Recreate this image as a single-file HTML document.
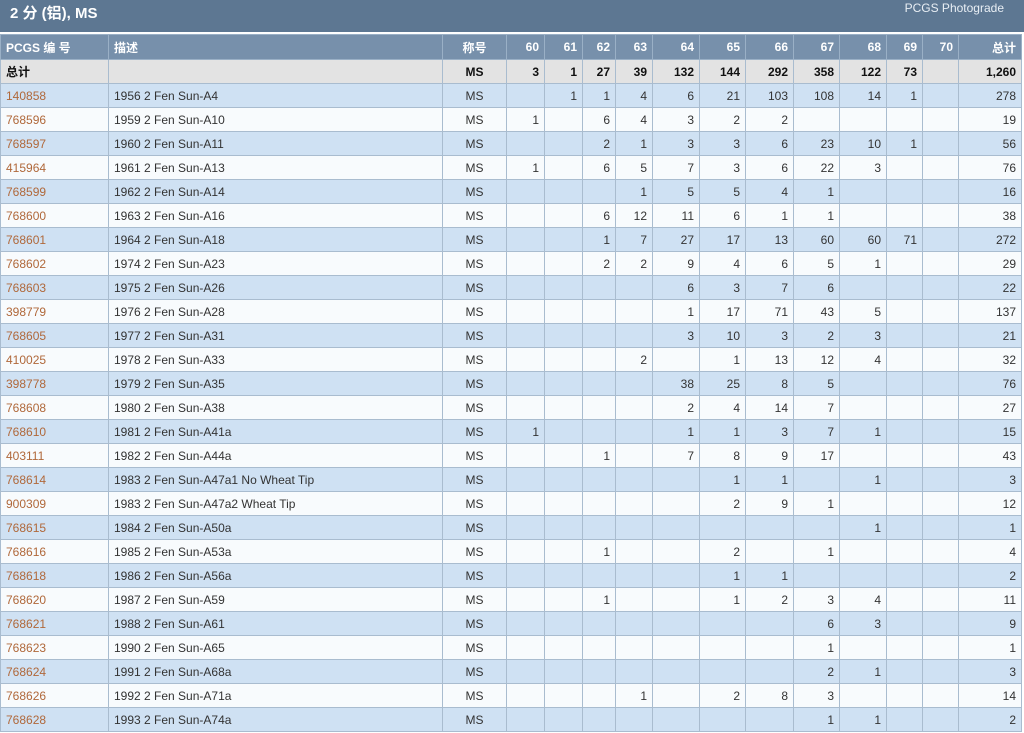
<!DOCTYPE html><html><head><meta charset="utf-8"><style>
body{margin:0;width:1024px;height:733px;overflow:hidden;background:#fff;font-family:"Liberation Sans","Noto Sans CJK SC",sans-serif;}
.top{position:absolute;left:0;top:0;width:1024px;height:32px;background:#5d7792;color:#fff;}
.top .t{position:absolute;left:10px;top:2px;font-size:15px;font-weight:bold;}
.top .r{position:absolute;right:20px;top:1px;font-size:12px;color:#e8eef4;}
table{position:absolute;left:0;top:34px;border-collapse:collapse;table-layout:fixed;width:1021px;font-size:12px;}
td,th{height:23px;padding:0 5px;border:1px solid #a9bccf;white-space:nowrap;overflow:hidden;text-align:right;color:#333;}
th{background:#7790ab;color:#fff;font-weight:bold;height:24px;border-color:#9ab0c6;}
tr:nth-child(even) td{background:#cfe1f3;}
tr:nth-child(odd) td{background:#f8fbfd;}
tr.tot td{background:#e3e3e3;font-weight:bold;color:#111;}
td.l,th.l{text-align:left;}
td.c,th.c{text-align:center;}
td.id{color:#b0683a;}
</style></head><body>
<div class="top"><span class="t">2 分 (铝), MS</span><span class="r">PCGS Photograde</span></div>
<table>
<colgroup><col style="width:108px"><col style="width:334px"><col style="width:64px"><col style="width:38px"><col style="width:38px"><col style="width:33px"><col style="width:37px"><col style="width:47px"><col style="width:46px"><col style="width:48px"><col style="width:46px"><col style="width:47px"><col style="width:36px"><col style="width:36px"><col style="width:63px"></colgroup>
<thead><tr><th class="l">PCGS 编 号</th><th class="l">描述</th><th class="c">称号</th><th>60</th><th>61</th><th>62</th><th>63</th><th>64</th><th>65</th><th>66</th><th>67</th><th>68</th><th>69</th><th>70</th><th>总计</th></tr></thead>
<tbody id="b">
<tr class="tot"><td class="l">总计</td><td></td><td class="c">MS</td><td>3</td><td>1</td><td>27</td><td>39</td><td>132</td><td>144</td><td>292</td><td>358</td><td>122</td><td>73</td><td></td><td>1,260</td></tr>
</tbody></table>
<script>
var d=[
["140858","1956 2 Fen Sun-A4","","1","1","4","6","21","103","108","14","1","278"],
["768596","1959 2 Fen Sun-A10","1","","6","4","3","2","2","","","","19"],
["768597","1960 2 Fen Sun-A11","","","2","1","3","3","6","23","10","1","56"],
["415964","1961 2 Fen Sun-A13","1","","6","5","7","3","6","22","3","","76"],
["768599","1962 2 Fen Sun-A14","","","","1","5","5","4","1","","","16"],
["768600","1963 2 Fen Sun-A16","","","6","12","11","6","1","1","","","38"],
["768601","1964 2 Fen Sun-A18","","","1","7","27","17","13","60","60","71","272"],
["768602","1974 2 Fen Sun-A23","","","2","2","9","4","6","5","1","","29"],
["768603","1975 2 Fen Sun-A26","","","","","6","3","7","6","","","22"],
["398779","1976 2 Fen Sun-A28","","","","","1","17","71","43","5","","137"],
["768605","1977 2 Fen Sun-A31","","","","","3","10","3","2","3","","21"],
["410025","1978 2 Fen Sun-A33","","","","2","","1","13","12","4","","32"],
["398778","1979 2 Fen Sun-A35","","","","","38","25","8","5","","","76"],
["768608","1980 2 Fen Sun-A38","","","","","2","4","14","7","","","27"],
["768610","1981 2 Fen Sun-A41a","1","","","","1","1","3","7","1","","15"],
["403111","1982 2 Fen Sun-A44a","","","1","","7","8","9","17","","","43"],
["768614","1983 2 Fen Sun-A47a1 No Wheat Tip","","","","","","1","1","","1","","3"],
["900309","1983 2 Fen Sun-A47a2 Wheat Tip","","","","","","2","9","1","","","12"],
["768615","1984 2 Fen Sun-A50a","","","","","","","","","1","","1"],
["768616","1985 2 Fen Sun-A53a","","","1","","","2","","1","","","4"],
["768618","1986 2 Fen Sun-A56a","","","","","","1","1","","","","2"],
["768620","1987 2 Fen Sun-A59","","","1","","","1","2","3","4","","11"],
["768621","1988 2 Fen Sun-A61","","","","","","","","6","3","","9"],
["768623","1990 2 Fen Sun-A65","","","","","","","","1","","","1"],
["768624","1991 2 Fen Sun-A68a","","","","","","","","2","1","","3"],
["768626","1992 2 Fen Sun-A71a","","","","1","","2","8","3","","","14"],
["768628","1993 2 Fen Sun-A74a","","","","","","","","1","1","","2"]];
var h="";d.forEach(function(r){h+='<tr><td class="l id">'+r[0]+'</td><td class="l">'+r[1]+'</td><td class="c">MS</td>';for(var i=2;i<12;i++)h+='<td>'+r[i]+'</td>';h+='<td></td><td>'+r[12]+'</td></tr>';});
document.getElementById("b").insertAdjacentHTML("beforeend",h);
</script>
</body></html>
